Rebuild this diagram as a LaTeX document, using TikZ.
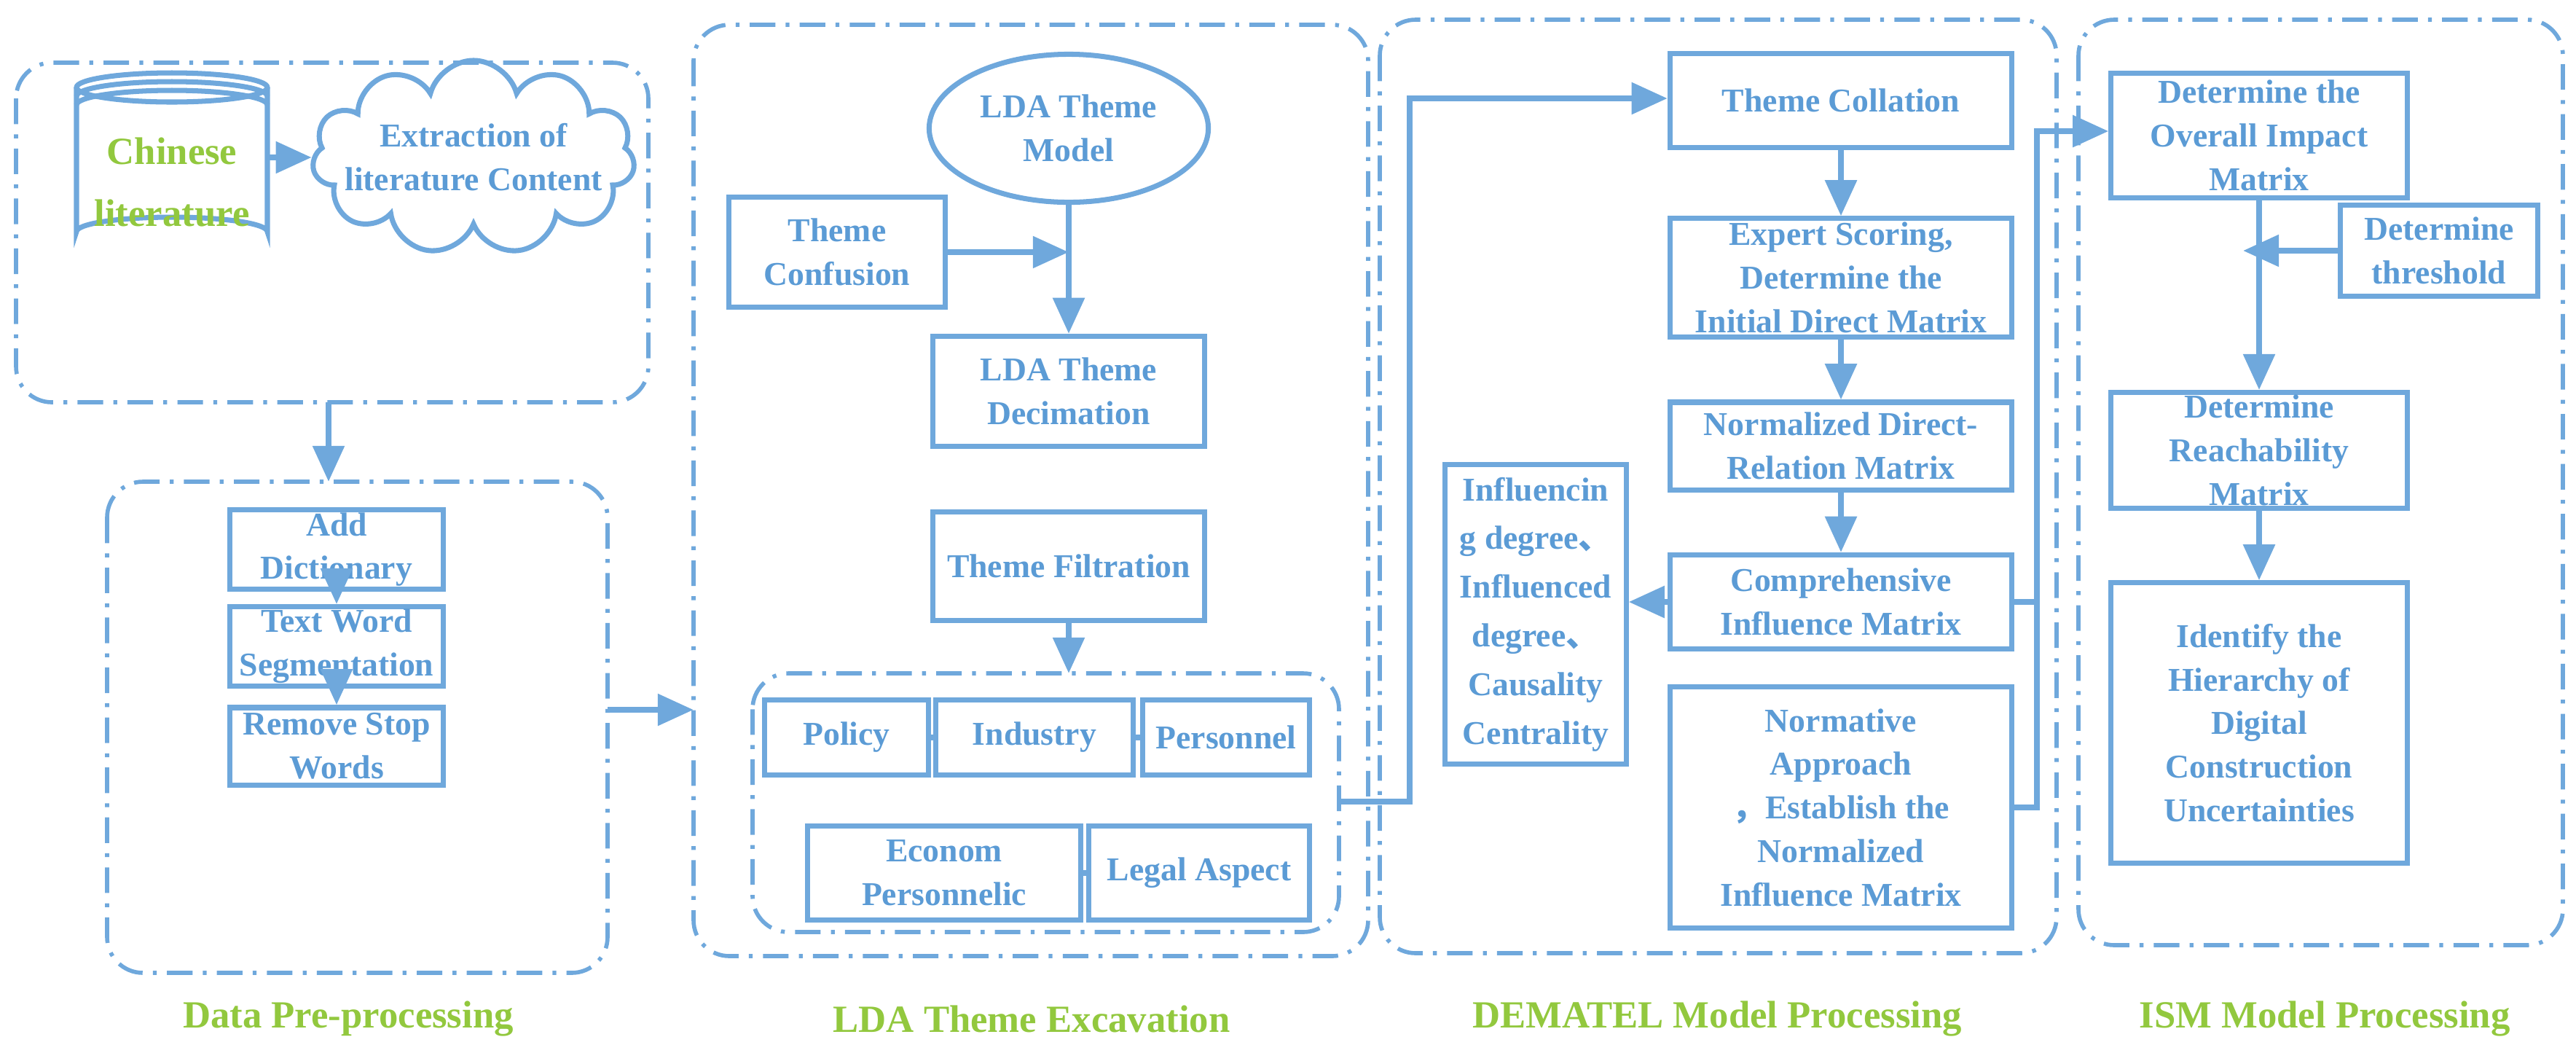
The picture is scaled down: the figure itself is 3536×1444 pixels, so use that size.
\documentclass[tikz,border=0pt]{standalone}
\usepackage{fontspec}
\setmainfont{Liberation Serif}
\newfontfamily\cjk{Noto Sans CJK SC}
\usetikzlibrary{shapes.geometric,shapes.symbols,arrows.meta}
\definecolor{bl}{HTML}{6FA8DC}
\definecolor{tx}{HTML}{5B9BD5}
\definecolor{gr}{HTML}{92C83E}
\begin{document}
\begin{tikzpicture}[x=0.01cm,y=-0.01cm,
 grp/.style={draw=bl,line width=1.6pt,rounded corners=14pt,dash pattern=on 10pt off 4pt on 1.5pt off 4pt},
 box/.style={draw=bl,line width=2pt,text=tx,align=center,font=\bfseries\fontsize{13}{17}\selectfont,inner sep=1pt},
 lab/.style={text=gr,font=\bfseries\fontsize{15}{18}\selectfont},
 con/.style={draw=bl,line width=2.4pt},
 arr/.style={con,-{Triangle[length=14pt,width=12pt]}}]
\useasboundingbox (0,0) rectangle (3536,1444);
% groups
\draw[grp] (22,86) rectangle (890,552);
\draw[grp] (147,661) rectangle (834,1335);
\draw[grp] (952,34) rectangle (1878,1312);
\draw[grp] (1894,27) rectangle (2823,1308);
\draw[grp] (2853,27) rectangle (3518,1297);
\draw[grp] (1033,924) rectangle (1838,1279);
\coordinate (g1b) at (451,552); \coordinate (g2t) at (451,661);
\coordinate (g2r) at (834,974); \coordinate (g3l) at (952,974);
\coordinate (inr) at (1838,1100); \coordinate (int) at (1467,924);
% group 1
\draw[bl,line width=2pt,fill=white] (105,120) -- (105,318) arc[start angle=180,end angle=360,x radius=131,y radius=20] -- (367,120);
\draw[bl,line width=2pt] (236,120) ellipse[x radius=131,y radius=20];
\draw[bl,line width=2pt] (105,132) arc[start angle=180,end angle=360,x radius=131,y radius=20];
\draw[bl,line width=2pt] (105,144) arc[start angle=180,end angle=360,x radius=131,y radius=20];
\node[font=\bfseries\fontsize{15}{24}\selectfont,text=gr,align=center,minimum width=2.62cm,minimum height=1.8cm] (cyl) at (236,250) {Chinese\\literature};
\node[cloud,cloud puffs=11,aspect=2.3,draw=bl,line width=2pt,text=tx,align=center,font=\bfseries\fontsize{13}{17}\selectfont,inner sep=-8pt,minimum width=3.77cm,minimum height=1.63cm] (cloud) at (650,216) {Extraction of\\literature Content};
\draw[arr] (cyl.east|-cloud.west) -- (cloud.west);
\draw[arr] (g1b) -- (g2t);
% group 2
\node[box,minimum width=2.93cm,minimum height=1.06cm] (dict) at (462,754) {Add\\Dictionary};
\node[box,minimum width=2.93cm,minimum height=1.06cm] (seg) at (462,887) {Text Word\\Segmentation};
\node[box,minimum width=2.93cm,minimum height=1.06cm] (stop) at (462,1024) {Remove Stop\\Words};
\draw[arr] (dict) -- (seg); \draw[arr] (seg) -- (stop);
\draw[arr] (g2r) -- (g3l);
% group 3
\node[ellipse,box,minimum width=3.83cm,minimum height=2.03cm] (lda) at (1467,176) {LDA Theme\\Model};
\node[box,minimum width=2.96cm,minimum height=1.51cm] (conf) at (1149,346) {Theme\\Confusion};
\node[box,minimum width=3.72cm,minimum height=1.51cm] (dec) at (1467,537) {LDA Theme\\Decimation};
\node[box,minimum width=3.72cm,minimum height=1.49cm] (filt) at (1467,777) {Theme Filtration};
\draw[arr] (lda) -- (dec);
\draw[arr] (conf.east) -- (conf.east-|lda.south);
\draw[arr] (filt) -- (int);
\node[box,minimum width=2.25cm,minimum height=1.03cm] (pol) at (1162,1012) {Policy};
\node[box,minimum width=2.71cm,minimum height=1.03cm] (ind) at (1420,1012) {Industry};
\node[box,minimum width=2.28cm,minimum height=1.03cm] (per) at (1683,1012) {Personnel};
\node[box,minimum width=3.75cm,minimum height=1.29cm] (eco) at (1296,1198) {Econom\\Personnelic};
\node[box,minimum width=3.02cm,minimum height=1.29cm] (leg) at (1646,1198) {Legal Aspect};
\draw[con] (pol) -- (ind); \draw[con] (ind) -- (per); \draw[con] (eco) -- (leg);
% group 4
\node[box,minimum width=4.69cm,minimum height=1.29cm] (coll) at (2527,138) {Theme Collation};
\node[box,minimum width=4.69cm,minimum height=1.62cm] (exp) at (2527,381) {Expert Scoring,\\Determine the\\Initial Direct Matrix};
\node[box,minimum width=4.69cm,minimum height=1.2cm] (ndr) at (2527,612) {Normalized Direct-\\Relation Matrix};
\node[box,minimum width=4.69cm,minimum height=1.29cm] (comp) at (2527,826) {Comprehensive\\Influence Matrix};
\node[box,minimum width=4.69cm,minimum height=3.31cm] (norm) at (2527,1108) {Normative\\Approach\\{\cjk ，}Establish the\\Normalized\\Influence Matrix};
\node[box,minimum width=2.48cm,minimum height=4.11cm,font=\bfseries\fontsize{13}{19}\selectfont] (infl) at (2108,843) {Influencin\\g degree{\cjk 、}\\Influenced\\degree{\cjk 、}\\Causality\\Centrality};
\draw[arr] (coll) -- (exp); \draw[arr] (exp) -- (ndr); \draw[arr] (ndr) -- (comp);
\draw[arr] (comp.west) -- (infl.east|-comp.west);
\draw[arr] (inr) -- (1935,1100) -- (1935,135) -- (coll.west|-1935,135);
% group 5
\node[box,minimum width=4.06cm,minimum height=1.7cm] (ovr) at (3101,186) {Determine the\\Overall Impact\\Matrix};
\node[box,minimum width=2.71cm,minimum height=1.24cm] (thr) at (3348,344) {Determine\\threshold};
\node[box,minimum width=4.06cm,minimum height=1.54cm] (rea) at (3101,618) {Determine\\Reachability\\Matrix};
\node[box,minimum width=4.06cm,minimum height=3.84cm] (hier) at (3101,992) {Identify the\\Hierarchy of\\Digital\\Construction\\Uncertainties};
\draw[arr] (ovr) -- (rea); \draw[arr] (rea) -- (hier);
\draw[arr] (thr.west) -- ++(-130,0);
\draw[con] (comp.east) -- (2796,826);
\draw[arr] (norm.east) -- (2796,1108) -- (2796,180) -- (ovr.west|-2796,180);
% labels
\node[lab] (l1) at (478,1398) {Data Pre-processing};
\node[lab] (l2) at (1416,1398) {LDA Theme Excavation};
\node[lab] (l3) at (2357,1398) {DEMATEL Model Processing};
\node[lab] (l4) at (3191,1398) {ISM Model Processing};
\end{tikzpicture}
\end{document}
